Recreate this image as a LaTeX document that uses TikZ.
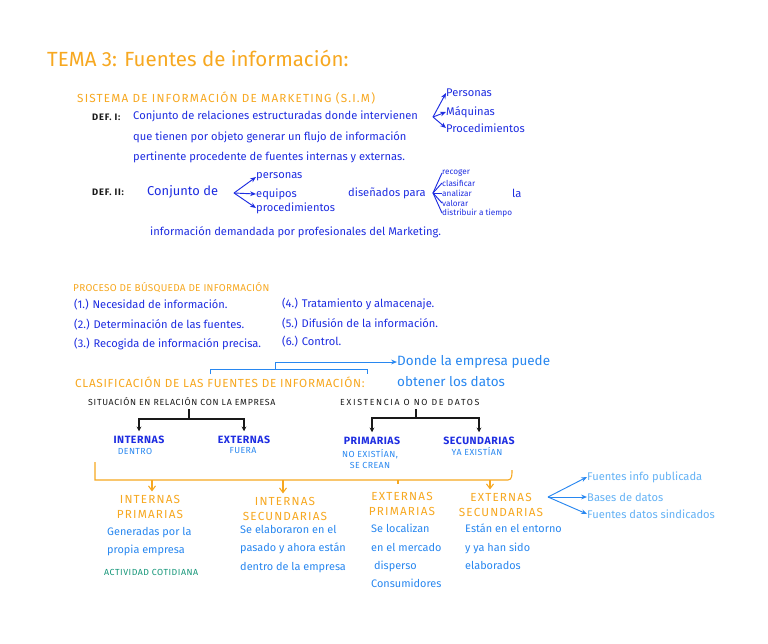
\documentclass[tikz,border=0pt]{standalone}
\usepackage{fontspec}
\setmainfont{Fira Sans}
\usetikzlibrary{arrows.meta}
\definecolor{notesorange}{RGB}{247,168,32}
\definecolor{inkblue}{RGB}{30,45,225}
\definecolor{lightink}{RGB}{40,135,240}
\definecolor{paleink}{RGB}{100,178,245}
\definecolor{tealink}{RGB}{20,150,120}
\definecolor{inkblack}{RGB}{25,25,25}

\begin{document}
\begin{tikzpicture}[
    x=0.03cm, y=-0.03cm,
    txt/.style={anchor=west, inner sep=0pt, text=inkblue, font=\fontsize{9.5}{11}\selectfont},
    smalltxt/.style={anchor=west, inner sep=0pt, text=inkblue, font=\fontsize{7}{8}\selectfont},
    hdr/.style={anchor=west, inner sep=0pt, text=notesorange, font=\fontsize{10}{12}\selectfont\addfontfeature{LetterSpace=#1}},
    deflbl/.style={anchor=west, inner sep=0pt, text=inkblack, font=\fontsize{8}{9}\selectfont\bfseries\addfontfeature{LetterSpace=8}},
    lbl/.style={anchor=west, inner sep=0pt, text=inkblack, font=\fontsize{7.5}{9}\selectfont\addfontfeature{LetterSpace=#1}},
    cat/.style={inner sep=0pt, text=inkblue, font=\fontsize{9}{10}\selectfont\bfseries\addfontfeature{LetterSpace=5}},
    sub/.style={inner sep=0pt, text=lightink, font=\fontsize{7.5}{9}\selectfont\addfontfeature{LetterSpace=5}, align=center},
    kind/.style={inner sep=0pt, text=notesorange, font=\fontsize{10}{13}\selectfont\addfontfeature{LetterSpace=10}, align=center},
    desc/.style={anchor=north west, inner sep=0pt, text=lightink, align=left, font=\fontsize{9.3}{15.7}\selectfont},
    arr/.style={-{Stealth[length=5pt, width=4pt]}, line width=0.8pt},
    treearr/.style={inkblack, line width=0.9pt, -{Stealth[length=4pt, width=4pt]}},
    orline/.style={notesorange, line width=0.9pt},
    orarr/.style={notesorange, line width=0.9pt, -{Straight Barb[length=4pt, width=6pt]}}
]

% Page
\fill[white] (0,0) rectangle (768,643);
\useasboundingbox (0,0) rectangle (768,643);

% Title
\node[anchor=west, inner sep=0pt, text=notesorange, font=\fontsize{17.5}{20}\selectfont] (tema) at (47,58) {TEMA 3: Fuentes de información:};

% 1. SISTEMA DE INFORMACION
\node[hdr=10] (sim) at (77,98) {SISTEMA DE INFORMACIÓN DE MARKETING (S.I.M)};

% Def. I
\node[deflbl] (defI) at (92,117) {DEF. I:};
\node[txt] (defIa) at (133,116) {Conjunto de relaciones estructuradas donde intervienen};
\node[txt] (defIb) at (133,137) {que tienen por objeto generar un flujo de información};
\node[txt] (defIc) at (133,157) {pertinente procedente de fuentes internas y externas.};
\coordinate (brI) at (433,117);
\node[txt] (pers) at (446,93) {Personas};
\node[txt] (maq) at (446,112) {Máquinas};
\node[txt] (proc) at (446,128) {Procedimientos};
\draw[inkblue, arr] (brI) -- (pers.west);
\draw[inkblue, arr] (brI) -- (maq.west);
\draw[inkblue, arr] (brI) -- (proc.west);

% Def. II
\node[deflbl] (defII) at (92,192) {DEF. II:};
\node[txt, font=\fontsize{11}{12}\selectfont] (conj) at (147,192) {Conjunto de};
\coordinate (brII) at (234,193);
\node[txt] (persII) at (256,177) {personas};
\node[txt] (equi) at (256,194) {equipos};
\node[txt] (procII) at (256,208) {procedimientos};
\draw[inkblue, arr] (brII) -- (persII.west);
\draw[inkblue, arr] (brII) -- (equi.west);
\draw[inkblue, arr] (brII) -- (procII.west);

\node[txt] (dise) at (348,193) {diseñados para};
\coordinate (brIII) at (433,193);
\node[smalltxt] (reco) at (442,173) {recoger};
\node[smalltxt] (clas) at (442,183) {clasificar};
\node[smalltxt] (anal) at (442,193) {analizar};
\node[smalltxt] (valo) at (442,203) {valorar};
\node[smalltxt] (dist) at (442,213) {distribuir a tiempo};
\draw[inkblue, line width=0.8pt] (reco.west) -- (brIII) -- (dist.west);
\draw[inkblue, line width=0.8pt] (brIII) -- (clas.west);
\draw[inkblue, line width=0.8pt] (brIII) -- (anal.west);
\draw[inkblue, line width=0.8pt] (brIII) -- (valo.west);
\node[txt] (la) at (512,193) {la};
\node[txt] (defIId) at (150,232) {información demandada por profesionales del Marketing.};

% 2. PROCESO DE BUSQUEDA
\node[hdr=3, font=\fontsize{8.5}{10}\selectfont\addfontfeature{LetterSpace=3}] (proceso) at (73,287) {PROCESO DE BÚSQUEDA DE INFORMACIÓN};
\node[txt] (paso1) at (74,305) {(1.) Necesidad de información.};
\node[txt] (paso2) at (74,325) {(2.) Determinación de las fuentes.};
\node[txt] (paso3) at (74,344) {(3.) Recogida de información precisa.};
\node[txt] (paso4) at (282,304) {(4.) Tratamiento y almacenaje.};
\node[txt] (paso5) at (282,324) {(5.) Difusión de la información.};
\node[txt] (paso6) at (282,342) {(6.) Control.};

% 3. CLASIFICACION
\node[hdr=6] (clasif) at (75,382) {CLASIFICACIÓN DE LAS FUENTES DE INFORMACIÓN:};
\node[txt, text=lightink, font=\fontsize{11.5}{13}\selectfont] (donde) at (397,362) {Donde la empresa puede};
\node[txt, text=lightink, font=\fontsize{11.5}{13}\selectfont] (obten) at (397,382) {obtener los datos};
\coordinate (bL) at (210,374);
\coordinate (bR) at (367,374);
\coordinate (bM) at (275,369);
\draw[lightink, line width=0.8pt] (bL) -- (210,369) -- (367,369) -- (bR);
\draw[lightink, arr] (bM) |- (donde.west);

% Situacion en relacion con la empresa
\node[lbl=8] (sit) at (88,402) {SITUACIÓN EN RELACIÓN CON LA EMPRESA};
\coordinate (sitStem) at (189,409);
\node[cat] (int) at (139,440) {INTERNAS};
\node[sub] (dentro) at (135,451) {DENTRO};
\node[cat] (ext) at (244,440) {EXTERNAS};
\node[sub] (fuera) at (243,451) {FUERA};
\draw[treearr, shorten >=4pt] (sitStem) -- (189,419) -| (int.north);
\draw[treearr, shorten >=4pt] (sitStem) -- (189,419) -| (ext.north);

% Existencia o no de datos
\node[lbl=19] (exis) at (340,402) {EXISTENCIA O NO DE DATOS};
\coordinate (exisStem) at (416,409);
\node[cat] (prim) at (372,441) {PRIMARIAS};
\node[sub] (noexis) at (370,459) {NO EXISTÍAN,\\SE CREAN};
\node[cat] (secu) at (479,441) {SECUNDARIAS};
\node[sub] (yaexis) at (477,452) {YA EXISTÍAN};
\draw[treearr, shorten >=4pt] (exisStem) -- (416,418) -| (prim.north);
\draw[treearr, shorten >=4pt] (exisStem) -- (416,418) -| (secu.north);

% 4. TIPOS DE FUENTES
\draw[orline] (95,462) -- (95,480) -- (508,480) to[out=0, in=-90] (512,470);
\node[kind] (intprim) at (150,507) {INTERNAS\\PRIMARIAS};
\node[kind] (intsec) at (285,509) {INTERNAS\\SECUNDARIAS};
\node[kind] (extprim) at (402,504) {EXTERNAS\\PRIMARIAS};
\node[kind] (extsec) at (501,505) {EXTERNAS\\SECUNDARIAS};
\draw[orarr, shorten >=3pt] (152,480) -- (intprim.north -| 152,0);
\draw[orarr, shorten >=3pt] (283,480) -- (intsec.north -| 283,0);
\draw[orline, shorten >=7pt] (398,480) -- (extprim.north -| 398,0);
\draw[orarr, shorten >=3pt] (490,480) -- (extsec.north -| 490,0);

% Descriptions
\node[desc] (gen) at (107,527) {Generadas por la\\propia empresa};
\node[anchor=west, inner sep=0pt, text=tealink, font=\fontsize{7.5}{9}\selectfont\addfontfeature{LetterSpace=6}] (activ) at (104,572) {ACTIVIDAD COTIDIANA};
\node[desc] (elab) at (240,525) {Se elaboraron en el\\pasado y ahora están\\dentro de la empresa};
\node[desc] (loc) at (371,524) {Se localizan\\en el mercado\\\ disperso\\Consumidores};
\node[desc] (ent) at (465,524) {Están en el entorno\\y ya han sido\\elaborados};

% Secondary external sources
\coordinate (brX) at (548,497);
\node[txt, text=paleink] (pub) at (587,477) {Fuentes info publicada};
\node[txt, text=paleink] (bases) at (587,497) {Bases de datos};
\node[txt, text=paleink] (sind) at (587,514) {Fuentes datos sindicados};
\draw[lightink, arr] (brX) -- (pub.west);
\draw[lightink, arr] (brX) -- (bases.west);
\draw[lightink, arr] (brX) -- (sind.west);

\end{tikzpicture}
\end{document}
